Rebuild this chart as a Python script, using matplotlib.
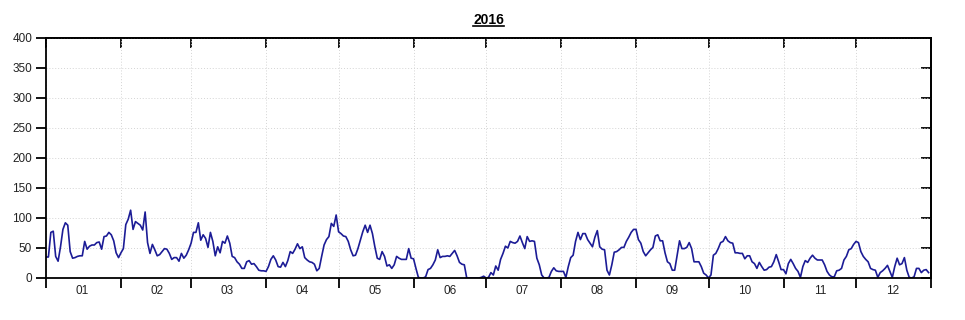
import pandas as pd
import matplotlib
matplotlib.use("Agg")
import matplotlib.pyplot as plt
import matplotlib.dates as mdates
from matplotlib.lines import Line2D

plt.rcParams['font.family'] = ['Liberation Sans', 'DejaVu Sans']

# daily values, one list per month
jan = [35, 35, 76, 78, 36, 28, 52, 81, 92, 88, 44, 33, 34, 36, 37, 37, 61, 48, 53, 55,
       55, 59, 60, 48, 69, 70, 76, 72, 62, 42, 34]
feb = [42, 49, 89, 98, 113, 81, 94, 91, 88, 80, 110, 59, 41, 56, 47, 37, 39, 44, 49, 48,
       41, 31, 34, 34, 28, 41, 33, 38, 47]
mar = [58, 76, 76, 92, 63, 72, 66, 51, 76, 61, 37, 52, 42, 61, 58, 70, 58, 36, 34, 27,
       23, 16, 16, 27, 29, 23, 24, 19, 13, 12, 12]
apr = [11, 19, 31, 37, 30, 19, 18, 26, 19, 29, 44, 41, 48, 57, 49, 52, 34, 30, 27, 26,
       23, 12, 16, 36, 55, 64, 69, 91, 86, 105]
may = [77, 74, 70, 69, 61, 47, 37, 38, 49, 63, 77, 88, 76, 88, 74, 52, 33, 31, 44, 36,
       20, 22, 16, 22, 36, 33, 31, 31, 31, 49, 33]
jun = [32, 16, 1, 0, 0, 2, 14, 16, 22, 30, 47, 34, 36, 36, 37, 36, 41, 46, 37, 26,
       23, 22, 0, 0, 0, 0, 0, 0, 1, 3]
jul = [0, 1, 9, 5, 20, 13, 31, 41, 53, 50, 61, 59, 58, 61, 70, 59, 49, 69, 61, 62,
       61, 33, 22, 5, 0, 0, 1, 11, 17, 12, 11]
aug = [11, 11, 1, 19, 34, 38, 61, 76, 64, 74, 74, 64, 58, 52, 68, 79, 52, 48, 47, 13,
       5, 22, 43, 44, 47, 51, 51, 61, 68, 76, 81]
sep = [81, 64, 58, 44, 37, 42, 47, 51, 70, 72, 62, 62, 42, 27, 24, 13, 13, 38, 62, 49,
       49, 51, 59, 49, 27, 27, 27, 19, 8, 5]
oct_ = [0, 5, 38, 41, 49, 59, 61, 69, 62, 59, 58, 42, 42, 41, 41, 32, 37, 37, 27, 24,
        16, 26, 19, 13, 14, 18, 19, 27, 39, 27, 14]
nov = [14, 7, 24, 31, 24, 16, 11, 1, 19, 29, 26, 33, 38, 33, 30, 30, 30, 22, 11, 5,
       2, 2, 12, 13, 16, 30, 36, 47, 49, 56]
dec = [61, 59, 44, 36, 31, 27, 16, 14, 13, 1, 9, 12, 16, 21, 11, 1, 19, 33, 22, 24,
       34, 13, 1, 0, 2, 16, 16, 9, 13, 14, 9]

values = jan + feb + mar + apr + may + jun + jul + aug + sep + oct_ + nov + dec
dates = pd.date_range("2016-01-01", periods=len(values), freq="D")
month_labels = ["01", "02", "03", "04", "05", "06", "07", "08", "09", "10", "11", "12"]

fig = plt.figure(figsize=(9.65, 3.2), dpi=100)
ax = fig.add_axes([46 / 965, 42 / 320, 885 / 965, 240 / 320])

ax.plot(dates, values, color="#1c1c96", linewidth=1.2)

ax.set_xlim(pd.Timestamp("2016-01-01"), pd.Timestamp("2017-01-01"))
ax.set_ylim(0, 400)
ax.set_yticks(range(0, 401, 50))

# month boundaries as major ticks, labels at mid-month
ax.xaxis.set_major_locator(mdates.MonthLocator())
ax.xaxis.set_major_formatter(plt.NullFormatter())
ax.xaxis.set_minor_locator(mdates.MonthLocator(bymonthday=16))
ax.xaxis.set_minor_formatter(plt.FixedFormatter(month_labels))

ax.grid(True, which="major", color="#d4d4d4", linestyle=(0, (1, 2)), linewidth=0.7)

for side in ["left", "right", "top", "bottom"]:
    ax.spines[side].set_linewidth(1.3)
    ax.spines[side].set_color("black")

ax.tick_params(axis="x", which="major", direction="out", length=7, width=1.3, bottom=True, top=False)
ax.tick_params(axis="x", which="minor", length=0, labelsize=8.5, pad=5, labelcolor="#222222")
ax.tick_params(axis="y", which="major", direction="out", length=7, width=1.3, labelsize=8.5, pad=3,
               labelcolor="#222222")

# inward ticks on the top and right edges
sec_x = ax.secondary_xaxis("top")
sec_x.xaxis.set_major_locator(mdates.MonthLocator())
sec_x.xaxis.set_major_formatter(plt.NullFormatter())
sec_x.tick_params(direction="in", length=7, width=1.3)
sec_x.spines["top"].set_linewidth(1.3)
sec_y = ax.secondary_yaxis("right")
sec_y.set_yticks(range(0, 401, 50))
sec_y.yaxis.set_major_formatter(plt.NullFormatter())
sec_y.tick_params(direction="in", length=7, width=1.3)
sec_y.spines["right"].set_linewidth(1.3)

title = fig.text(ax.get_position().x0 + ax.get_position().width / 2, 1 - 20 / 320, "2016",
                 ha="center", va="center", fontsize=10, fontweight="bold")

# underline the title
fig.canvas.draw()
bb = title.get_window_extent().transformed(fig.transFigure.inverted())
fig.add_artist(Line2D([bb.x0, bb.x1], [bb.y0 + 0.004, bb.y0 + 0.004],
                      transform=fig.transFigure, color="black", linewidth=1.2))

fig.savefig("out.png", dpi=100)
